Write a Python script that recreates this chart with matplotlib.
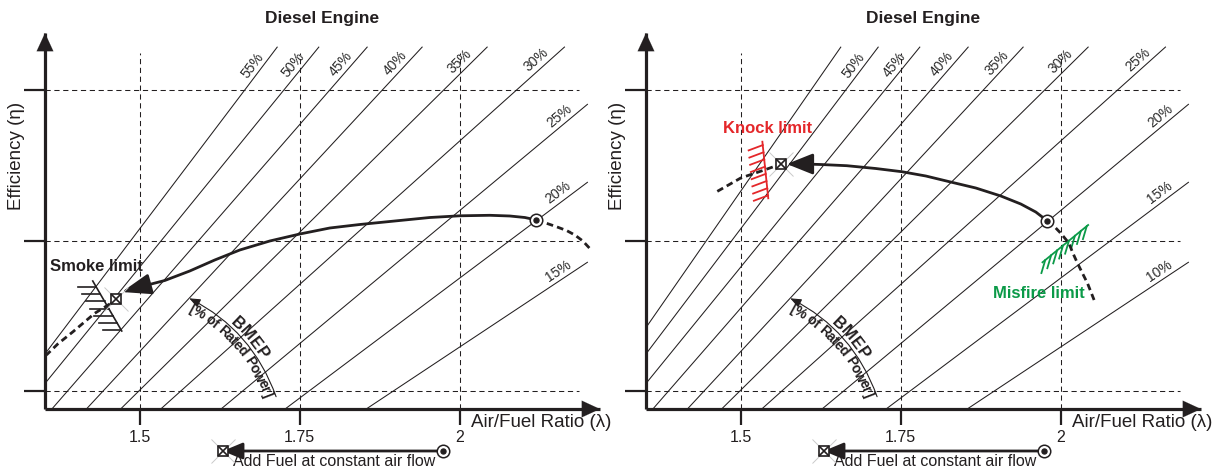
import numpy as np
import matplotlib
matplotlib.use("Agg")
import matplotlib.pyplot as plt
from matplotlib.font_manager import FontProperties

plt.rcParams['font.family'] = ['Liberation Sans', 'DejaVu Sans']
INK = '#231f20'
RED = '#e4272a'
GREEN = '#0b9a48'

# ---------------- data ----------------
x_ticks = [1.5, 1.75, 2.0]
x_tick_labels = ['1.5', '1.75', '2']
y_ticks = [0.0, 1.0, 2.0]

# constant-BMEP lines: upper end point and a lower point on each line
bmep_x_top = [1.6567, 1.7152, 1.7802, 1.8558, 1.9417, 2.0433, 2.1641, 2.2000, 2.2000, 2.2000]
bmep_y_top = [2.2834, 2.2834, 2.2834, 2.2834, 2.2834, 2.2834, 2.2834, 1.9040, 1.3874, 0.8576]
bmep_x_low = [1.5620, 1.6120, 1.6692, 1.7370, 1.8152, 1.9052, 2.0120, 1.8750, 1.8750, 1.8750]
bmep_y_low = [1.7053, 1.7053, 1.7053, 1.7053, 1.7053, 1.7053, 1.7053, 0.7583, 0.3543, -0.0563]
left_bmep_labels = [None, '55%', '50%', '45%', '40%', '35%', '30%', '25%', '20%', '15%']
right_bmep_labels = ['', '50%', '45%', '40%', '35%', '30%', '25%', '20%', '15%', '10%']

# left panel: operating path toward smoke limit
left_path_x = [2.1198, 2.1016, 2.0781, 2.0469, 2.0000, 1.9531, 1.9063, 1.8438, 1.7969,
               1.7500, 1.7031, 1.6563, 1.6172, 1.5781, 1.5391, 1.5000]
left_path_y = [1.1358, 1.1523, 1.1623, 1.1669, 1.1636, 1.1523, 1.1325, 1.1060, 1.0828,
               1.0430, 0.9967, 0.9371, 0.8709, 0.7980, 0.7351, 0.6921]
left_tip = (1.4719, 0.6589)
left_end_mark = (1.4636, 0.6106)
left_dash_hi_x = [2.1198, 2.1355, 2.1500, 2.1667, 2.1797, 2.1922, 2.2031]
left_dash_hi_y = [1.1358, 1.1139, 1.0927, 1.0662, 1.0364, 0.9967, 0.9470]
left_dash_lo_x = [1.4531, 1.4297, 1.3958, 1.3719, 1.3542]
left_dash_lo_y = [0.5795, 0.5179, 0.3960, 0.3146, 0.2417]
smoke_base_x = [1.4266, 1.4719]
smoke_base_y = [0.7318, 0.4007]
smoke_text_xy = (1.4323, 0.8265)

# right panel: operating path toward knock limit
right_path_x = [1.9792, 1.9609, 1.9375, 1.9063, 1.8672, 1.8259, 1.7891, 1.7516, 1.7109,
                1.6656, 1.6250, 1.5984]
right_path_y = [1.1291, 1.1887, 1.2417, 1.2947, 1.3477, 1.3894, 1.4272, 1.4556, 1.4768,
                1.4954, 1.5033, 1.5066]
right_tip = (1.5719, 1.5066)
right_end_mark = (1.5625, 1.5066)
right_dash_lo_x = [1.5500, 1.5367, 1.5000, 1.4625]
right_dash_lo_y = [1.4868, 1.4669, 1.4139, 1.3232]
misfire_dash_x = [1.9792, 1.9891, 2.0000, 2.0125, 2.0188, 2.0261, 2.0344, 2.0417, 2.0520]
misfire_dash_y = [1.1291, 1.0960, 1.0477, 0.9834, 0.9172, 0.8490, 0.7781, 0.7166, 0.6060]
knock_base_x = [1.5338, 1.5430]
knock_base_y = [1.6543, 1.2795]
knock_text_xy = (1.5422, 1.7450)
misfire_base_x = [1.9714, 2.0427]
misfire_base_y = [0.8556, 1.1026]
misfire_text_xy = (1.9661, 0.6457)

# BMEP arc annotation and bottom "add fuel" arrow
bmep_arc_tip = (1.5773, 0.6172)
bmep_arc_base = (1.7130, -0.0344)
fuel_arrow_from = (1.9734, -0.3940)
fuel_arrow_to = (1.6297, -0.3940)
fuel_text_xy = (1.6453, -0.4934)

# ---------------- layout ----------------
W, H = 1228, 470
XLIM = (1.352, 2.219)
YLIM = (-0.1159, 2.3742)
ARC_RAD = 0.2
fig = plt.figure(figsize=(W / 100, H / 100), dpi=100)
fig.patch.set_facecolor('white')
renderer = fig.canvas.get_renderer()


def rect(x0, x1, ytop, ybot):
    return [x0 / W, (H - ybot) / H, (x1 - x0) / W, (ybot - ytop) / H]


axL = fig.add_axes(rect(45, 600, 33, 409))
axR = fig.add_axes(rect(646, 1201, 33, 409))


def circ_dot(ax, xy, zorder=6):
    ax.plot([xy[0]], [xy[1]], marker='o', ms=9, mfc='white', mec=INK, mew=1.1,
            zorder=zorder, clip_on=False)
    ax.plot([xy[0]], [xy[1]], marker='o', ms=3.6, mfc=INK, mec=INK, zorder=zorder + 1,
            clip_on=False)


def box_x(ax, xy, zorder=6):
    ax.plot([xy[0]], [xy[1]], marker='x', ms=17, mec='#c9c9c9', mew=0.7,
            zorder=zorder - 1, clip_on=False)
    ax.plot([xy[0]], [xy[1]], marker='s', ms=7.5, mfc='white', mec=INK, mew=1.2,
            zorder=zorder, clip_on=False)
    ax.plot([xy[0]], [xy[1]], marker='x', ms=7.5, mec=INK, mew=1.2,
            zorder=zorder + 1, clip_on=False)


def arrow(ax, start, end, lw=2.0, hl=0.65, hw=0.25, ms=20, zorder=5, conn='arc3,rad=0'):
    ax.annotate('', xy=end, xytext=start, annotation_clip=False,
                arrowprops=dict(arrowstyle=f'-|>,head_length={hl},head_width={hw}',
                                lw=lw, color=INK, shrinkA=0, shrinkB=0,
                                mutation_scale=ms, connectionstyle=conn),
                zorder=zorder)


def arc_points(ax, base, tip, rad, n=400):
    A = ax.transData.transform(base)
    B = ax.transData.transform(tip)
    mid = (A + B) / 2
    d = B - A
    C = mid + rad * np.array([d[1], -d[0]])
    t = np.linspace(0, 1, n)[:, None]
    P = (1 - t) ** 2 * A + 2 * t * (1 - t) * C + t ** 2 * B
    return P[::-1]  # from tip to base (reading direction)


def text_on_arc(ax, P, text, offset, size, weight='bold', color=INK, shift=0.0):
    seg = np.diff(P, axis=0)
    s = np.concatenate([[0], np.cumsum(np.hypot(seg[:, 0], seg[:, 1]))])
    fp = FontProperties(family=['Liberation Sans', 'DejaVu Sans'], size=size, weight=weight)
    widths = [renderer.get_text_width_height_descent(ch, fp, ismath=False)[0] for ch in text]
    total = sum(widths)
    s0 = s[-1] / 2 - total / 2 + shift
    cum = 0.0
    for ch, w in zip(text, widths):
        sc = s0 + cum + w / 2
        cum += w
        i = np.clip(np.searchsorted(s, sc), 1, len(s) - 1)
        f = (sc - s[i - 1]) / max(s[i] - s[i - 1], 1e-9)
        pt = P[i - 1] + f * (P[i] - P[i - 1])
        tvec = (P[i] - P[i - 1]) / np.hypot(*(P[i] - P[i - 1]))
        up = np.array([-tvec[1], tvec[0]])
        q = pt + offset * up
        ang = np.degrees(np.arctan2(tvec[1], tvec[0]))
        x, y = ax.transData.inverted().transform(q)
        ax.text(x, y, ch, rotation=ang, rotation_mode='anchor', ha='center', va='baseline',
                fontproperties=fp, color=color, zorder=4)


def base_panel(ax, labels):
    ax.set_xlim(*XLIM)
    ax.set_ylim(*YLIM)
    ax.set_facecolor('none')
    for s in ['top', 'right']:
        ax.spines[s].set_visible(False)
    for s in ['left', 'bottom']:
        ax.spines[s].set_linewidth(2.3)
        ax.spines[s].set_color(INK)
        ax.spines[s].set_capstyle('butt')
    ax.set_xticks(x_ticks, x_tick_labels)
    ax.set_yticks(y_ticks, ['', '', ''])
    ax.tick_params(axis='x', length=11.5, width=1.6, pad=3.5, labelsize=11.5,
                   colors=INK)
    ax.tick_params(axis='y', length=15, width=1.6, colors=INK)
    # axis arrow heads
    arrow(ax, (XLIM[1] - 0.03, YLIM[0]), (XLIM[1], YLIM[0]), lw=0.1, hl=0.65, hw=0.3)
    arrow(ax, (XLIM[0], YLIM[1] - 0.1), (XLIM[0], YLIM[1]), lw=0.1, hl=0.65, hw=0.3)
    # dashed grid
    ax.vlines(x_ticks, YLIM[0], 2.242, colors=INK, linestyles=(0, (5, 3.5)), lw=0.75,
              zorder=1)
    ax.hlines(y_ticks, XLIM[0], 2.186, colors=INK, linestyles=(0, (5, 3.5)), lw=0.75,
              zorder=1)
    # BMEP lines
    for xt, yt, xl, yl, lab in zip(bmep_x_top, bmep_y_top, bmep_x_low, bmep_y_low, labels):
        if lab is None:
            continue
        ax.plot([xt, xt + 10 * (xl - xt)], [yt, yt + 10 * (yl - yt)], color=INK, lw=0.75,
                zorder=2, solid_capstyle='butt')
        if lab:
            T = ax.transData.transform((xt, yt))
            L = ax.transData.transform((xl, yl))
            u = (L - T) / np.hypot(*(L - T))
            n = np.array([u[1], -u[0]])
            P = T + 30 * u + 9 * n
            ang = np.degrees(np.arctan2(-u[1], -u[0]))
            px, py = ax.transData.inverted().transform(P)
            ax.text(px, py, lab, rotation=ang, rotation_mode='anchor', ha='center',
                    va='center', fontsize=10, color='#2b2b2b', zorder=3)
    # BMEP arc with text along it
    arrow(ax, bmep_arc_base, bmep_arc_tip, lw=0.8, hl=0.55, hw=0.22, ms=12, zorder=3,
          conn=f'arc3,rad={ARC_RAD}')
    P = arc_points(ax, bmep_arc_base, bmep_arc_tip, ARC_RAD)
    text_on_arc(ax, P, 'BMEP', 2.5, 12, shift=4)
    text_on_arc(ax, P, '[% of Rated Power]', -12, 10, shift=1)
    # labels
    ax.text(0.5, 1.0374, 'Diesel Engine', transform=ax.transAxes, ha='center',
            va='center', fontsize=12.5, fontweight='bold', color=INK)
    ax.text(-0.0505, 0.674, 'Efficiency (\u03b7)', transform=ax.transAxes, rotation=90,
            ha='center', va='center', fontsize=13.5, color=INK)
    ax.text(2.018, YLIM[0] - 0.092, 'Air/Fuel Ratio (\u03bb)', ha='left', va='center',
            fontsize=13.5, color=INK, clip_on=False)
    # bottom arrow
    arrow(ax, fuel_arrow_from, fuel_arrow_to, lw=2.0, hl=0.6, hw=0.25, ms=20)
    circ_dot(ax, fuel_arrow_from)
    box_x(ax, fuel_arrow_to)
    ax.text(*fuel_text_xy, 'Add Fuel at constant air flow', ha='left', va='baseline',
            fontsize=11.5, color=INK, clip_on=False)


base_panel(axL, left_bmep_labels)
base_panel(axR, right_bmep_labels)

DASH = (0, (2.4, 1.5))

# ---- left panel curves ----
axL.plot(left_path_x, left_path_y, color=INK, lw=2.0, zorder=5, solid_capstyle='round')
arrow(axL, (left_path_x[-1], left_path_y[-1]), left_tip, lw=2.0, hl=0.9, hw=0.32, ms=20)
axL.plot(left_dash_hi_x, left_dash_hi_y, color=INK, lw=2.0, ls=DASH, zorder=5,
         clip_on=False)
axL.plot(left_dash_lo_x, left_dash_lo_y, color=INK, lw=2.0, ls=DASH, zorder=5)
circ_dot(axL, (left_path_x[0], left_path_y[0]))
box_x(axL, left_end_mark)
axL.plot(smoke_base_x, smoke_base_y, color=INK, lw=1.2, zorder=4)
for f in np.linspace(0.12, 0.99, 7):
    bx = smoke_base_x[0] + f * (smoke_base_x[1] - smoke_base_x[0])
    by = smoke_base_y[0] + f * (smoke_base_y[1] - smoke_base_y[0])
    axL.plot([bx - 0.029, bx], [by, by], color=INK, lw=1.2, zorder=4)
axL.text(*smoke_text_xy, 'Smoke limit', ha='center', va='center', fontsize=12,
         fontweight='bold', color=INK, zorder=6)

# ---- right panel curves ----
axR.plot(right_path_x, right_path_y, color=INK, lw=2.0, zorder=5, solid_capstyle='round')
arrow(axR, (right_path_x[-1], right_path_y[-1]), right_tip, lw=2.0, hl=0.8, hw=0.32, ms=20)
axR.plot(right_dash_lo_x, right_dash_lo_y, color=INK, lw=2.0, ls=DASH, zorder=5)
axR.plot(misfire_dash_x, misfire_dash_y, color=INK, lw=2.0, ls=DASH, zorder=5)
circ_dot(axR, (right_path_x[0], right_path_y[0]))
box_x(axR, right_end_mark)
axR.plot(knock_base_x, knock_base_y, color=RED, lw=1.3, zorder=4)
for f in np.linspace(0.06, 0.95, 8):
    bx = knock_base_x[0] + f * (knock_base_x[1] - knock_base_x[0])
    by = knock_base_y[0] + f * (knock_base_y[1] - knock_base_y[0])
    axR.plot([bx - 0.022, bx], [by - 0.035, by], color=RED, lw=1.3, zorder=4)
axR.text(*knock_text_xy, 'Knock limit', ha='center', va='center', fontsize=12,
         fontweight='bold', color=RED, zorder=6)
axR.plot(misfire_base_x, misfire_base_y, color=GREEN, lw=1.3, zorder=4)
for f in np.linspace(0.06, 0.97, 8):
    bx = misfire_base_x[0] + f * (misfire_base_x[1] - misfire_base_x[0])
    by = misfire_base_y[0] + f * (misfire_base_y[1] - misfire_base_y[0])
    axR.plot([bx - 0.006, bx], [by - 0.086, by], color=GREEN, lw=1.3, zorder=4)
axR.text(*misfire_text_xy, 'Misfire limit', ha='center', va='center', fontsize=12,
         fontweight='bold', color=GREEN, zorder=6)

fig.savefig('out.png', dpi=100, facecolor='white')
